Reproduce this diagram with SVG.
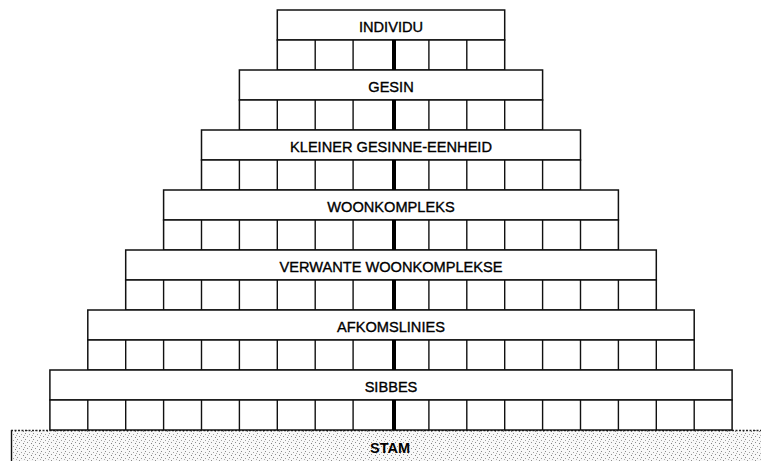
<svg xmlns="http://www.w3.org/2000/svg" width="761" height="461" viewBox="0 0 761 461">
  <defs>
    <pattern id="stipple" width="8" height="6" patternUnits="userSpaceOnUse">
      <rect width="8" height="6" fill="#f8f8f8"/>
      <rect x="1" y="1" width="1" height="1" fill="#8a8a8a"/>
      <rect x="5" y="2" width="1" height="1" fill="#a0a0a0"/>
      <rect x="3" y="4" width="1" height="1" fill="#909090"/>
      <rect x="7" y="5" width="1" height="1" fill="#808080"/>
      <rect x="0" y="3" width="1" height="1" fill="#b0b0b0"/>
    </pattern>
  </defs>
  <style>
    .box { fill: #ffffff; stroke: #111111; stroke-width: 1.5; }
    .div { fill: none; stroke: #111111; stroke-width: 1.4; }
    .spine { fill: #000000; }
    .lbl { font-family: "Liberation Sans", Arial, sans-serif; font-size: 14.6px; fill: #000000; stroke: #000000; stroke-width: 0.35; text-anchor: middle; }
    .stam { font-family: "Liberation Sans", Arial, sans-serif; font-size: 14.5px; font-weight: bold; fill: #000000; text-anchor: middle; }
  </style>
  <rect width="761" height="461" fill="#ffffff"/>

  <g id="stam">
    <rect x="11" y="430" width="760" height="40" fill="url(#stipple)"/>
    <line x1="11.5" y1="430" x2="11.5" y2="461" stroke="#111111" stroke-width="1.4"/>
    <line x1="11" y1="430.5" x2="761" y2="430.5" stroke="#222222" stroke-width="1.4" stroke-dasharray="2 1.5"/>
    <text class="stam" x="390" y="453">STAM</text>
  </g>

  <g id="individu">
    <rect class="box" x="277.3" y="10" width="227.4" height="30"/>
    <rect class="box" x="277.3" y="40" width="227.4" height="30"/>
    <path class="div" d="M315.2 40V70M353.1 40V70M428.9 40V70M466.8 40V70"/>
    <text class="lbl" x="391" y="31.5">INDIVIDU</text>
  </g>

  <g id="gesin">
    <rect class="box" x="239.4" y="70" width="303.2" height="30"/>
    <rect class="box" x="239.4" y="100" width="303.2" height="30"/>
    <path class="div" d="M277.3 100V130M315.2 100V130M353.1 100V130M428.9 100V130M466.8 100V130M504.7 100V130"/>
    <text class="lbl" x="391" y="91.5">GESIN</text>
  </g>

  <g id="kleiner-gesinne-eenheid">
    <rect class="box" x="201.5" y="130" width="379" height="30"/>
    <rect class="box" x="201.5" y="160" width="379" height="30"/>
    <path class="div" d="M239.4 160V190M277.3 160V190M315.2 160V190M353.1 160V190M428.9 160V190M466.8 160V190M504.7 160V190M542.6 160V190"/>
    <text class="lbl" x="391" y="151.5">KLEINER GESINNE-EENHEID</text>
  </g>

  <g id="woonkompleks">
    <rect class="box" x="163.6" y="190" width="454.8" height="30"/>
    <rect class="box" x="163.6" y="220" width="454.8" height="30"/>
    <path class="div" d="M201.5 220V250M239.4 220V250M277.3 220V250M315.2 220V250M353.1 220V250M428.9 220V250M466.8 220V250M504.7 220V250M542.6 220V250M580.5 220V250"/>
    <text class="lbl" x="391" y="211.5">WOONKOMPLEKS</text>
  </g>

  <g id="verwante-woonkomplekse">
    <rect class="box" x="125.7" y="250" width="530.6" height="30"/>
    <rect class="box" x="125.7" y="280" width="530.6" height="30"/>
    <path class="div" d="M163.6 280V310M201.5 280V310M239.4 280V310M277.3 280V310M315.2 280V310M353.1 280V310M428.9 280V310M466.8 280V310M504.7 280V310M542.6 280V310M580.5 280V310M618.4 280V310"/>
    <text class="lbl" x="391" y="271.5">VERWANTE WOONKOMPLEKSE</text>
  </g>

  <g id="afkomslinies">
    <rect class="box" x="87.8" y="310" width="606.4" height="30"/>
    <rect class="box" x="87.8" y="340" width="606.4" height="30"/>
    <path class="div" d="M125.7 340V370M163.6 340V370M201.5 340V370M239.4 340V370M277.3 340V370M315.2 340V370M353.1 340V370M428.9 340V370M466.8 340V370M504.7 340V370M542.6 340V370M580.5 340V370M618.4 340V370M656.3 340V370"/>
    <text class="lbl" x="391" y="331.5">AFKOMSLINIES</text>
  </g>

  <g id="sibbes">
    <rect class="box" x="49.9" y="370" width="682.2" height="30"/>
    <rect class="box" x="49.9" y="400" width="682.2" height="30"/>
    <path class="div" d="M87.8 400V430M125.7 400V430M163.6 400V430M201.5 400V430M239.4 400V430M277.3 400V430M315.2 400V430M353.1 400V430M428.9 400V430M466.8 400V430M504.7 400V430M542.6 400V430M580.5 400V430M618.4 400V430M656.3 400V430M694.2 400V430"/>
    <text class="lbl" x="391" y="391.5">SIBBES</text>
  </g>

  <g id="connectors">
    <rect class="spine" x="392" y="40" width="4" height="30"/>
    <rect class="spine" x="392" y="100" width="4" height="30"/>
    <rect class="spine" x="392" y="160" width="4" height="30"/>
    <rect class="spine" x="392" y="220" width="4" height="30"/>
    <rect class="spine" x="392" y="280" width="4" height="30"/>
    <rect class="spine" x="392" y="340" width="4" height="30"/>
    <rect class="spine" x="392" y="400" width="4" height="30"/>
  </g>
</svg>
